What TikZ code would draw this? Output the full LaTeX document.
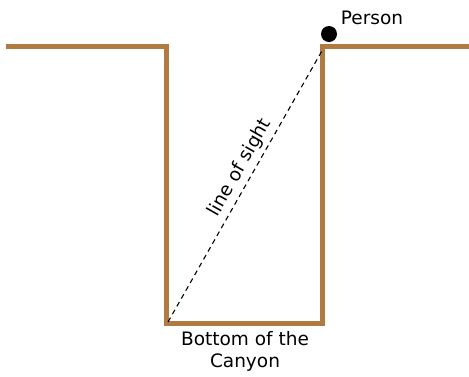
\documentclass[tikz,border=0pt]{standalone}
\usepackage{fontspec}
\setmainfont{DejaVu Sans}
\definecolor{canyon}{RGB}{176,122,64}
\tikzset{
  wall/.style={draw=canyon, line width=5pt, line join=miter},
  tag/.style={font=\fontsize{18.5}{22}\selectfont, align=center, inner sep=0pt}
}
\begin{document}
\begin{tikzpicture}[x=1pt, y=-1pt]
    \useasboundingbox (0,0) rectangle (469,376);
    \coordinate (farL) at (6,46);
    \coordinate (rimL) at (166,46);
    \coordinate (botL) at (166,323);
    \coordinate (botR) at (322,323);
    \coordinate (rimR) at (322,46);
    \coordinate (farR) at (469,46);
    \draw [wall] (farL) -- (rimL) -- (botL) -- (botR) -- (rimR) -- (farR);
    \node (eye) at (329,34) [circle, fill=black, minimum size=16pt, inner sep=0pt]{};
    \node (person) at (372,18) [tag]{Person};
    \node (bottom) at (245,351) [tag]{Bottom of the\\Canyon};
    \coordinate (foot) at (168,322);
    \coordinate (top) at (323,49);
    \draw [dash pattern=on 5pt off 4pt, line width=1.1pt] (foot) -- (top) node [pos=0.54, sloped, above=4pt, tag]{line of sight};
\end{tikzpicture}
\end{document}
